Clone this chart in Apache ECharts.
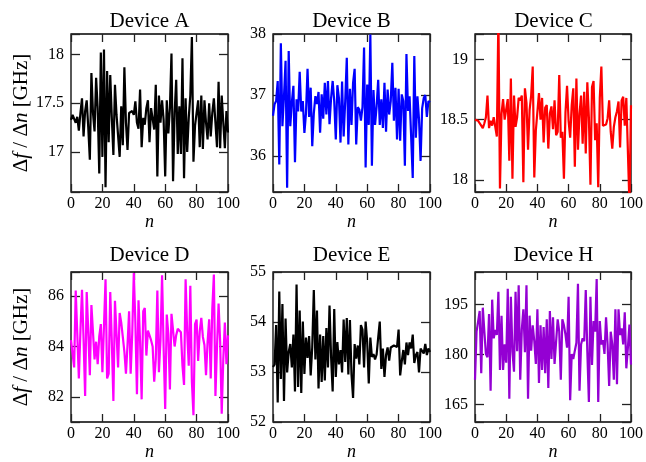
<!DOCTYPE html>
<html>
<head>
<meta charset="utf-8">
<script src="https://cdn.jsdelivr.net/npm/echarts@6/dist/echarts.min.js"></script>
<style>
  html, body { margin: 0; padding: 0; background: #fff; }
  #chart { width: 646px; height: 462px; }
</style>
</head>
<body>
<div id="chart"></div>
<script>
// Frequency spacing Δf/Δn versus mode number n for six devices
const deviceNames = ['Device A', 'Device B', 'Device C', 'Device D', 'Device E', 'Device H'];
const xTicks = [0, 20, 40, 60, 80, 100];

const deviceA = [17.33,17.38,17.40,17.30,17.36,17.22,17.40,17.55,17.16,17.42,17.53,17.25,16.92,17.81,17.40,17.21,17.76,17.45,16.78,18.02,
  16.95,18.05,16.64,17.83,17.10,17.79,17.35,16.97,17.69,17.38,17.40,16.95,17.47,17.07,17.87,17.30,17.02,17.40,17.38,17.42,
  17.38,17.52,17.30,17.24,17.64,17.05,17.35,17.28,17.45,17.53,17.10,17.45,17.46,17.23,17.69,16.75,17.58,17.30,17.53,17.33,
  16.75,17.53,17.19,17.45,18.01,16.70,17.40,17.74,16.98,17.47,16.98,17.96,16.73,17.55,17.00,17.35,17.58,18.18,16.90,17.27,
  17.40,17.53,17.05,17.58,17.03,17.53,17.30,17.13,17.50,17.16,17.40,17.55,17.30,17.05,17.72,17.04,17.58,17.30,17.04,17.42,17.20];

const deviceB = [36.66,36.85,36.90,37.23,35.86,37.85,36.49,36.98,37.56,35.48,37.72,36.49,36.88,37.15,35.90,36.93,36.73,37.38,36.73,36.90,
  36.38,36.70,37.43,36.64,37.12,36.16,36.70,36.98,36.85,37.05,36.38,37.01,36.61,37.20,36.68,37.23,36.52,36.95,37.23,36.90,
  36.27,37.16,36.95,36.22,37.22,36.32,36.90,37.61,36.19,37.10,36.51,37.20,37.43,36.19,36.80,36.76,36.58,36.80,37.78,35.81,
  37.17,36.51,37.99,35.84,37.08,36.51,36.81,37.25,36.51,36.93,36.46,37.20,36.40,37.09,36.68,36.90,37.53,36.58,37.12,36.27,
  37.10,36.25,37.01,36.90,35.84,37.67,36.74,36.98,36.95,35.64,37.64,36.30,36.98,36.60,35.92,36.78,36.95,37.00,36.64,36.90,36.88];

const deviceC = [18.50,18.50,18.49,18.50,18.45,18.43,18.47,18.52,18.70,18.43,18.49,18.45,18.52,18.44,18.36,19.35,17.93,18.55,18.67,18.50,
  18.49,18.67,18.16,18.84,18.01,18.70,18.44,18.52,18.68,18.66,18.70,17.98,18.76,18.64,18.25,18.58,18.70,18.94,18.02,18.41,
  18.42,18.72,18.50,18.68,18.31,18.60,18.62,18.26,18.55,18.61,18.42,18.66,18.37,18.40,18.87,18.35,18.40,18.01,18.56,18.78,
  18.49,18.35,18.62,18.76,18.11,18.84,18.25,18.55,18.70,18.30,18.73,18.22,18.81,18.52,17.96,18.77,18.82,18.33,18.47,17.94,
  18.68,18.94,18.45,18.44,18.46,18.51,18.66,18.40,18.26,18.44,18.52,18.57,18.65,18.27,18.66,18.69,18.45,18.68,18.69,17.80,18.62];

const deviceD = [84.25,84.30,83.17,86.22,84.50,82.73,84.60,86.25,84.30,82.03,86.16,84.60,82.86,85.65,84.57,83.49,84.19,83.30,84.40,84.89,
  82.98,84.80,86.67,82.73,82.92,86.16,84.20,81.84,85.82,84.50,83.17,85.33,84.95,84.38,83.80,82.92,84.06,85.40,82.92,84.50,
  86.92,84.95,82.10,85.84,84.20,81.90,85.40,85.53,83.64,84.63,84.57,84.25,84.00,82.60,83.50,86.22,82.98,84.25,86.83,83.95,
  81.52,85.27,84.50,82.29,85.30,85.33,84.00,84.45,84.70,84.70,84.57,83.24,82.47,86.67,84.57,83.24,86.41,82.60,81.27,84.89,
  85.07,83.43,84.60,85.14,84.38,84.06,82.86,84.19,85.08,82.73,85.50,86.86,82.03,84.00,85.71,84.19,81.33,83.50,84.95,83.30,84.44];

const deviceE = [53.10,53.15,53.94,52.39,54.61,52.86,54.36,52.42,54.07,52.99,53.40,53.56,53.09,53.75,52.61,54.75,52.70,54.23,52.58,54.01,
  52.96,53.69,53.28,53.72,52.93,53.50,54.64,53.25,54.23,52.67,53.75,52.80,53.72,52.83,53.88,53.09,54.33,53.30,52.61,54.26,
  52.90,53.60,53.15,53.44,52.99,54.05,53.20,54.08,52.95,54.04,52.95,52.48,53.56,53.27,53.53,53.15,53.94,53.85,53.09,54.01,
  53.60,52.77,53.69,53.30,53.36,53.25,53.35,53.69,54.01,53.06,53.47,52.90,53.34,53.49,53.23,53.49,53.49,53.53,53.53,53.50,
  53.85,52.93,53.21,53.44,53.15,53.59,53.34,53.59,53.47,53.75,53.18,53.34,53.40,52.99,53.47,53.50,53.37,53.56,53.34,53.47,53.40];

const deviceH = [172.5,186.9,190.0,193.1,174.4,194.1,186.9,180.2,179.2,192.2,169.2,196.5,184.9,187.4,185.9,198.9,175.4,191.7,175.4,183.1,
  177.6,199.8,166.8,197.4,181.0,174.9,198.9,181.0,200.8,172.5,187.5,193.6,180.7,200.8,166.8,191.7,181.2,188.8,184.1,177.2,
  193.6,171.5,188.8,175.4,188.3,174.4,190.6,170.0,193.1,178.7,191.2,177.2,184.0,190.6,186.9,172.5,190.6,188.8,186.0,182.1,
  197.4,166.3,180.2,178.7,181.2,183.6,201.3,169.2,183.1,184.9,184.0,199.4,181.0,165.8,197.4,176.9,190.1,186.9,202.7,165.8,
  190.1,183.1,184.4,180.2,191.2,183.0,170.6,186.9,183.1,172.5,193.6,171.1,193.6,185.9,187.9,183.1,192.7,175.9,182.1,189.0,177.0];

// y tick values for each panel
const yTicksA = [17, 17.5, 18];
const yTicksB = [36, 37, 38];
const yTicksC = [18, 18.5, 19];
const yTicksD = [82, 84, 86];
const yTicksE = [52, 53, 54, 55];
const yTicksH = [165, 180, 195];

const panels = [
  { name: deviceNames[0], data: deviceA, ticks: yTicksA, min: 16.59, max: 18.21, color: '#000000', col: 0, row: 0 },
  { name: deviceNames[1], data: deviceB, ticks: yTicksB, min: 35.41, max: 38.0,  color: '#0000ff', col: 1, row: 0 },
  { name: deviceNames[2], data: deviceC, ticks: yTicksC, min: 17.90, max: 19.21, color: '#ff0000', col: 2, row: 0 },
  { name: deviceNames[3], data: deviceD, ticks: yTicksD, min: 81.0,  max: 86.96, color: '#ff00ff', col: 0, row: 1 },
  { name: deviceNames[4], data: deviceE, ticks: yTicksE, min: 52,    max: 55,    color: '#000000', col: 1, row: 1 },
  { name: deviceNames[5], data: deviceH, ticks: yTicksH, min: 159.8, max: 204.8, color: '#9400d3', col: 2, row: 1 }
];

const FONT = 'Liberation Serif';
const colLeft = [71, 273, 475];
const plotW = 157;
const rowTop = [34, 272];
const rowH = [158, 156];
const titleTop = [11, 245];

const grid = [], xAxis = [], yAxis = [], series = [], title = [];
const tickStyle = { color: '#222', width: 1.3 };
const noLine = { show: false, onZero: false };

panels.forEach((p, i) => {
  const left = colLeft[p.col], top = rowTop[p.row], h = rowH[p.row];
  const step = p.ticks[1] - p.ticks[0];
  grid.push({ left: left, top: top, width: plotW, height: h, show: true,
    borderColor: '#000', borderWidth: 1.3, backgroundColor: 'transparent' });
  title.push({ text: p.name, left: left + plotW / 2, top: titleTop[p.row], textAlign: 'center', padding: 0,
    textStyle: { fontFamily: FONT, fontSize: 21, fontWeight: 'normal', color: '#000' } });

  const xBase = { type: 'value', gridIndex: i, min: 0, max: 100, interval: 20,
    splitLine: { show: false }, axisLine: noLine };
  xAxis.push(Object.assign({}, xBase, {
    position: 'bottom',
    name: 'n', nameLocation: 'middle', nameGap: 21,
    nameTextStyle: { fontFamily: FONT, fontSize: 18, fontStyle: 'italic', color: '#000' },
    axisTick: { inside: true, length: 8, lineStyle: tickStyle },
    axisLabel: { fontFamily: FONT, fontSize: 16, color: '#000', margin: 4,
      customValues: xTicks, showMinLabel: true, showMaxLabel: true }
  }));
  xAxis.push(Object.assign({}, xBase, {
    position: 'top',
    axisTick: { inside: true, length: 8, lineStyle: tickStyle },
    axisLabel: { show: false }
  }));

  // ticks fall on multiples of the step while the range keeps its own ends
  const yBase = { type: 'value', gridIndex: i, min: p.min, max: p.max,
    minInterval: step, maxInterval: step, splitNumber: 3,
    splitLine: { show: false }, axisLine: noLine };
  const yMain = Object.assign({}, yBase, {
    position: 'left',
    axisTick: { inside: true, length: 9, lineStyle: tickStyle },
    axisLabel: { fontFamily: FONT, fontSize: 16, color: '#000', margin: 7, customValues: p.ticks }
  });
  if (p.col === 0) {
    Object.assign(yMain, {
      name: 'Δ{i|f} / Δ{i|n} [GHz]', nameLocation: 'middle', nameGap: 39, nameRotate: 90,
      nameTextStyle: { fontFamily: FONT, fontSize: 21, color: '#000',
        rich: { i: { fontFamily: FONT, fontSize: 21, fontStyle: 'italic', color: '#000' } } }
    });
  }
  yAxis.push(yMain);
  yAxis.push(Object.assign({}, yBase, {
    position: 'right',
    axisTick: { inside: true, length: 9, lineStyle: tickStyle },
    axisLabel: { show: false }
  }));

  series.push({
    type: 'line', xAxisIndex: 2 * i, yAxisIndex: 2 * i,
    data: p.data.map((v, k) => [k, v]),
    symbol: 'none', clip: true, animation: false,
    lineStyle: { color: p.color, width: 2.2 }
  });
});

const chart = echarts.init(document.getElementById('chart'), null, { renderer: 'canvas' });
chart.setOption({ backgroundColor: '#fff', animation: false, title, grid, xAxis, yAxis, series });
</script>
</body>
</html>
